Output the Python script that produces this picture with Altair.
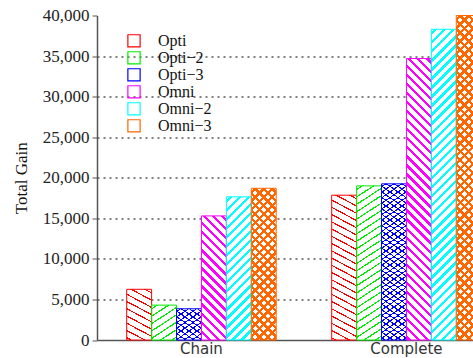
import math
import altair as alt
import pandas as pd

# ---- data -------------------------------------------------------------
categories = ["Chain", "Complete"]
series = ["Opti", "Opti\u22122", "Opti\u22123", "Omni", "Omni\u22122", "Omni\u22123"]
chain_gain = [6250, 4300, 3850, 15300, 17650, 18700]
complete_gain = [17850, 19000, 19250, 34700, 38300, 40000]
colors = ["#ff0000", "#00ee00", "#0000ff", "#ff00ff", "#00ffff", "#ff6600"]
y_ticks = [0, 5000, 10000, 15000, 20000, 25000, 30000, 35000, 40000]

# hatch style of each series: (line angle in degrees, spacing px, line width px)
hatches = [
    [(28, 6.4, 1.2)],
    [(-33, 6.2, 1.2)],
    [(35, 4.6, 1.1), (-35, 4.6, 1.1)],
    [(45, 6.4, 2.4)],
    [(-45, 6.4, 2.4)],
    [(45, 6.0, 2.4), (-45, 6.0, 2.4)],
]

# ---- geometry ---------------------------------------------------------
PLOT_W, PLOT_H = 376, 324.5
Y_MAX = 40000
STEP = 205.0
GROUP_W = 149.5
PAD_IN = 1 - GROUP_W / STEP
PAD_OUT = 29.7 / STEP
X_RANGE = STEP * (len(categories) - PAD_IN + 2 * PAD_OUT)
BAR_W = GROUP_W / len(series)

rows = []
for c, vals in zip(categories, [chain_gain, complete_gain]):
    for s, v in zip(series, vals):
        rows.append({"category": c, "series": s, "gain": v})
df = pd.DataFrame(rows)


def hatch_fill(color, angle, spacing, width, w, h, gap):
    """Linear gradient with hard stops that paints parallel hatch lines."""
    a = math.radians(angle)
    nx, ny = -math.sin(a), math.cos(a)
    if ny < 0:
        nx, ny = -nx, -ny
    x1 = 0.0 if nx >= 0 else 1.0
    y1 = 0.0
    span = abs(nx) * w + ny * h
    k = span / (nx * nx * w * w + ny * ny * h * h)
    x2 = x1 + k * nx * w
    y2 = y1 + k * ny * h
    stops = [{"offset": 0, "color": gap}]
    d = spacing / 2
    while d - width / 2 < span:
        lo = max(0.0, (d - width / 2) / span)
        hi = min(1.0, (d + width / 2) / span)
        stops += [
            {"offset": round(lo, 5), "color": gap},
            {"offset": round(lo, 5), "color": color},
            {"offset": round(hi, 5), "color": color},
            {"offset": round(hi, 5), "color": gap},
        ]
        d += spacing
    stops.append({"offset": 1, "color": gap})
    return {"gradient": "linear", "x1": round(x1, 5), "y1": y1,
            "x2": round(x2, 5), "y2": round(y2, 5), "stops": stops}


x_enc = alt.X(
    "category:N",
    sort=categories,
    scale=alt.Scale(domain=categories, range=[0, X_RANGE],
                    paddingInner=PAD_IN, paddingOuter=PAD_OUT),
    axis=alt.Axis(title=None, labelAngle=0, ticks=False, labelPadding=1,
                  labelFont="DejaVu Sans", labelFontSize=15, labelColor="#333",
                  domainColor="#555", domainWidth=1.5, grid=False),
)
xo_enc = alt.XOffset(
    "series:N", sort=series,
    scale=alt.Scale(domain=series, paddingInner=0, paddingOuter=0),
)
y_enc = alt.Y(
    "gain:Q",
    scale=alt.Scale(domain=[0, Y_MAX], nice=False),
    axis=alt.Axis(
        values=y_ticks, format=",d", title="Total Gain",
        titleFont="Liberation Serif", titleFontSize=17, titleFontWeight="normal",
        titleColor="#111", titlePadding=12,
        labelFont="Liberation Serif", labelFontSize=17, labelColor="#222",
        labelPadding=3, tickSize=5, tickColor="#555",
        domainColor="#555", domainWidth=1.5,
        grid=True, gridDash=[2, 4], gridColor="#000", gridWidth=1,
        gridOpacity={"condition": {"test": "datum.value >= 40000 || datum.value <= 0",
                                   "value": 0}, "value": 1},
    ),
)

layers = []
for cat, vals in zip(categories, [chain_gain, complete_gain]):
    for s, v, col, hs in zip(series, vals, colors, hatches):
        h_px = v / Y_MAX * PLOT_H
        for i, (ang, sp, lw) in enumerate(hs):
            gap = "white" if i == 0 else "rgba(255,255,255,0)"
            layers.append(
                alt.Chart(df)
                .transform_filter((alt.datum.category == cat) & (alt.datum.series == s))
                .mark_bar(fill=hatch_fill(col, ang, sp, lw, BAR_W, h_px, gap),
                          strokeWidth=0)
                .encode(x=x_enc, xOffset=xo_enc, y=y_enc)
            )

# coloured outlines of every bar, which also carry the legend
outline = (
    alt.Chart(df)
    .mark_bar(fill="transparent", strokeWidth=1)
    .encode(
        x=x_enc, xOffset=xo_enc, y=y_enc,
        stroke=alt.Stroke(
            "series:N", sort=series,
            scale=alt.Scale(domain=series, range=colors),
            legend=alt.Legend(
                title=None, orient="none", legendX=29, legendY=18, padding=0,
                symbolType="square", symbolSize=150, symbolStrokeWidth=1.2,
                symbolFillColor="white", labelOffset=16, rowPadding=0,
                clipHeight=14.7,
                labelFont="Liberation Serif", labelFontSize=16, labelColor="#111",
            ),
        ),
    )
)
layers.append(outline)

chart = (
    alt.layer(*layers)
    .properties(
        width=PLOT_W, height=PLOT_H,
        autosize=alt.AutoSizeParams(type="none"),
        padding={"left": 97, "top": 15.5, "right": 0, "bottom": 18},
    )
    .configure_view(stroke=None)
)

chart.save("out.html", embed_options={"renderer": "svg", "actions": False})
